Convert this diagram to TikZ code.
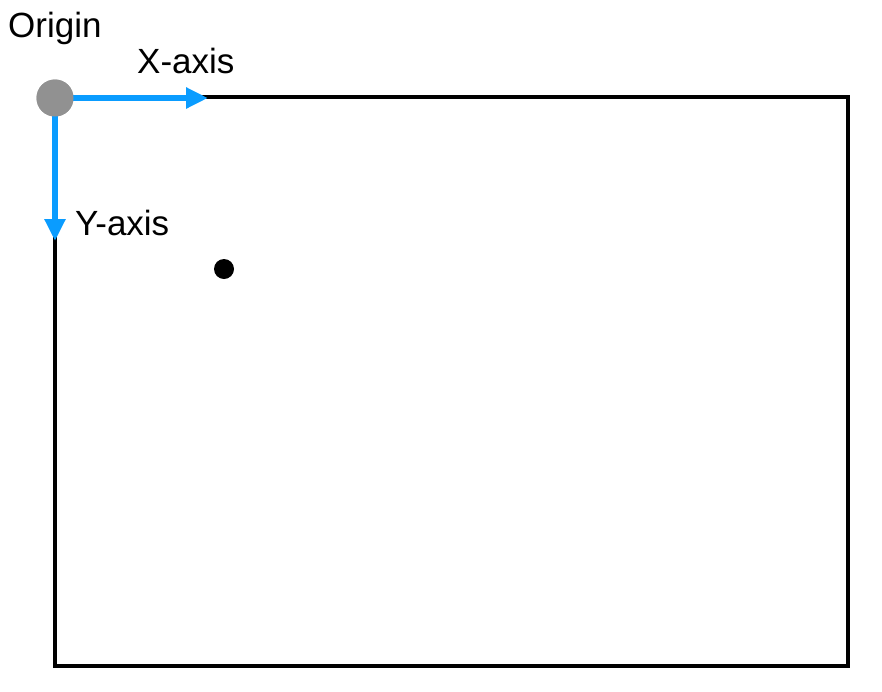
\documentclass[tikz,border=0pt]{standalone}
\usepackage{fontspec}
\setmainfont{Liberation Sans}
\usetikzlibrary{arrows.meta}
\definecolor{axisblue}{RGB}{10,156,255}
\definecolor{origingray}{RGB}{145,145,145}
\tikzset{
  axisline/.style={draw=axisblue, line width=5.5pt, -{Triangle[length=22pt,width=20pt]}},
  lbl/.style={anchor=base west, inner sep=0pt, font=\fontsize{35}{40}\selectfont},
}
\begin{document}
\begin{tikzpicture}[x=1pt,y=-1pt]
\useasboundingbox (0,0) rectangle (882,691);
\draw[line width=4pt] (55,97) rectangle (848,666);
\node[circle, fill=origingray, minimum size=37pt, inner sep=0pt] (o) at (55,98) {};
\coordinate (xe) at (208,98);
\coordinate (ye) at (55,241);
\draw[axisline] (o.center) -- (xe);
\draw[axisline] (o.center) -- (ye);
\node[circle, fill=origingray, minimum size=37pt, inner sep=0pt] at (o) {};
\node[circle, fill=black, minimum size=20pt, inner sep=0pt] (pt) at (224,269) {};
\node[lbl] (tO) at (8,37) {Origin};
\node[lbl] (tX) at (137,73) {X-axis};
\node[lbl] (tY) at (75,235) {Y-axis};
\end{tikzpicture}
\end{document}
